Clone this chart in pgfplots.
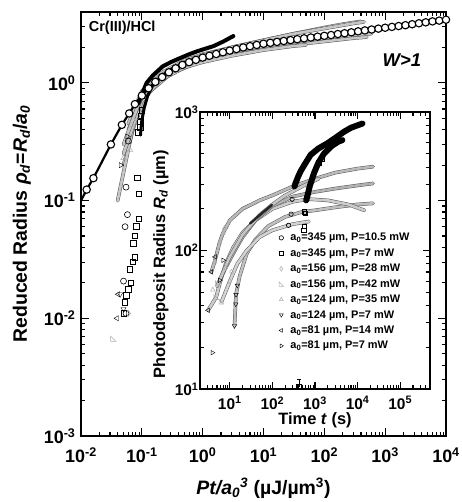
\documentclass[border=0pt]{standalone}
\usepackage{fontspec}
\setmainfont{Liberation Sans}
\usepackage{pgfplots}
\pgfplotsset{compat=1.18}
\pgfdeclareplotmark{rtri}{%
  \pgfpathmoveto{\pgfqpoint{-\pgfplotmarksize}{-\pgfplotmarksize}}%
  \pgfpathlineto{\pgfqpoint{\pgfplotmarksize}{-\pgfplotmarksize}}%
  \pgfpathlineto{\pgfqpoint{-\pgfplotmarksize}{\pgfplotmarksize}}%
  \pgfpathclose\pgfusepathqstroke}
\pgfplotsset{
  mytick/.style={tick align=inside, xtick pos=both, ytick pos=both,
    major tick length=8bp, minor tick length=4.5bp,
    every tick/.style={black, line width=1.1pt},
    axis line style={line width=1.6pt}},
  gband/.style={no marks, line join=round, line cap=round, double=#1, double distance=2.6bp, draw=gray!70!black, line width=0.5bp, forget plot},
  gband/.default={gray!45},
  gmk/.style={only marks, mark size=2.3bp, mark options={gray!65, line width=0.5bp, solid, fill=none}},
}
\begin{document}
\begin{tikzpicture}
\path[use as bounding box] (-81bp,-66bp) rectangle (381bp,436bp);
\begin{axis}[
  at={(0,0)}, anchor=south west,
  scale only axis, width=365bp, height=424bp,
  xmode=log, ymode=log,
  xmin=0.01, xmax=10000, ymin=0.001, ymax=4,
  mytick,
  xtick={0.01,0.1,1,10,100,1000,10000},
  xticklabels={10\textsuperscript{-2},10\textsuperscript{-1},10\textsuperscript{0},10\textsuperscript{1},10\textsuperscript{2},10\textsuperscript{3},10\textsuperscript{4}},
  ytick={0.001,0.01,0.1,1},
  yticklabels={10\textsuperscript{-3},10\textsuperscript{-2},10\textsuperscript{-1},10\textsuperscript{0}},
  minor xtick={0.02,0.03,0.04,0.05,0.06,0.07,0.08,0.09,0.2,0.3,0.4,0.5,0.6,0.7,0.8,0.9,2,3,4,5,6,7,8,9,20,30,40,50,60,70,80,90,200,300,400,500,600,700,800,900,2000,3000,4000,5000,6000,7000,8000,9000},
  minor ytick={0.002,0.003,0.004,0.005,0.006,0.007,0.008,0.009,0.02,0.03,0.04,0.05,0.06,0.07,0.08,0.09,0.2,0.3,0.4,0.5,0.6,0.7,0.8,0.9,2,3,4},
  tick label style={font=\fontsize{18}{18}\selectfont\bfseries},
  xticklabel style={yshift=-8bp},
  yticklabel style={xshift=-2bp},
  xlabel={\textit{Pt/a}\textsubscript{\textit{0}}\textsuperscript{\textit{3}} (µJ/µm\textsuperscript{3})},
  ylabel={Reduced Radius \textit{ρ}\textsubscript{\textit{d}}=\textit{R}\textsubscript{\textit{d}}/\textit{a}\textsubscript{\textit{0}}},
  label style={font=\fontsize{19.5}{20}\selectfont\bfseries},
  xlabel style={at={(axis description cs:0.5,-0.123)}, anchor=center},
  ylabel style={at={(axis description cs:-0.162,0.5)}, anchor=center},
  legend cell align=left,
  legend image post style={mark size=2.2bp},
  legend style={draw=none, fill=none, at={(axis description cs:0.534,0.488)}, anchor=north west,
    font=\fontsize{11}{12}\selectfont\bfseries, row sep=2.3bp,
    /tikz/every odd column/.append style={column sep=5bp}},
]
% gray experimental bands
\addplot[gband] coordinates {(0.06,0.45)(0.1,0.85)(0.2,1.2)(0.5,1.55)(1,1.75)(3,2.0)(10,2.3)(30,2.6)(100,2.95)(200,3.15)(400,3.33)};
\addplot[gband] coordinates {(0.05,0.2)(0.08,0.5)(0.15,0.95)(0.3,1.25)(1,1.55)(3,1.75)(10,1.95)(30,2.1)(100,2.25)(300,2.4)(500,2.45)};
\addplot[gband] coordinates {(0.04,0.1)(0.07,0.4)(0.12,0.8)(0.3,1.2)(1,1.55)(3,1.8)(10,2.0)(30,2.2)(100,2.4)(300,2.55)(600,2.62)};
\addplot[gband] coordinates {(0.05,0.25)(0.1,0.7)(0.2,1.05)(0.5,1.35)(1,1.5)(3,1.7)(10,1.9)(30,2.05)(50,2.1)};
\addplot[gband] coordinates {(0.06,0.4)(0.1,0.75)(0.2,1.1)(0.5,1.4)(1,1.6)(3,1.85)(10,2.05)(30,2.25)(80,2.4)};
\addplot[gband] coordinates {(0.05,0.3)(0.1,0.78)(0.2,1.15)(0.5,1.5)(1,1.7)(3,2.0)(10,2.3)(30,2.6)(100,2.9)(300,3.2)(450,3.3)};
% black experimental bands
\addplot[black, line width=3bp, line cap=round, forget plot] coordinates {(0.095,0.36)(0.1,0.48)(0.11,0.62)(0.125,0.78)(0.15,0.95)(0.2,1.12)(0.3,1.3)(0.5,1.48)(0.75,1.6)};
\addplot[black, line width=4bp, line cap=round, forget plot] coordinates {(0.088,0.67)(0.1,0.8)(0.12,1.0)(0.15,1.15)(0.22,1.38)(0.3,1.5)(0.42,1.62)(0.6,1.75)(0.8,1.85)(1.1,1.95)(1.5,2.05)(2.2,2.25)(3.2,2.5)};
% scattered early points (these series also carry the legend)
\addplot[only marks, mark=o, mark size=3bp, black, mark options={line width=0.6bp}] coordinates {(0.06,0.32)(0.055,0.13)(0.058,0.076)(0.053,0.06)(0.05,0.0207)(0.055,0.011)};
\addlegendentry{a\textsubscript{0}=345 µm, P=10.5 mW}
\addplot[only marks, mark=square, mark size=2.8bp, black, mark options={line width=0.9bp}] coordinates {(0.088,0.38)(0.084,0.156)(0.09,0.114)(0.09,0.07)(0.082,0.06)(0.077,0.05)(0.072,0.043)(0.077,0.033)(0.071,0.03)(0.064,0.026)(0.066,0.02)(0.06,0.0175)(0.056,0.0156)(0.053,0.0137)(0.051,0.011)(0.095,0.42)(0.095,0.47)(0.097,0.52)(0.1,0.58)};
\addlegendentry{a\textsubscript{0}=345 µm, P=7 mW}
\addplot[gmk, mark=diamond, mark size=3bp] coordinates {(0.06,0.011)(0.08,0.5)};
\addlegendentry{a\textsubscript{0}=156 µm, P=28 mW}
\addplot[gmk, mark=rtri, mark size=2.6bp] coordinates {(0.034,0.0067)(0.07,0.45)};
\addlegendentry{a\textsubscript{0}=156 µm, P=42 mW}
\addplot[gmk, mark=triangle, mark size=3bp] coordinates {(0.05,0.23)(0.064,0.27)};
\addlegendentry{a\textsubscript{0}=124 µm, P=35 mW}
\addplot[gmk, mark=triangle, mark size=3bp, mark options={rotate=180}] coordinates {(0.044,0.016)(0.05,0.012)};
\addlegendentry{a\textsubscript{0}=124 µm, P=7 mW}
\addplot[gmk, mark=triangle, mark size=3bp, mark options={rotate=90}] coordinates {(0.041,0.016)(0.039,0.01)};
\addlegendentry{a\textsubscript{0}=81 µm, P=14 mW}
\addplot[gmk, mark=triangle, mark size=3bp, mark options={rotate=-90}] coordinates {(0.045,0.2)(0.058,0.35)};
\addlegendentry{a\textsubscript{0}=81 µm, P=7 mW}
% model curve with circles
\addplot[black, line width=2.2bp, forget plot] coordinates {(0.01,0.1)(0.0124,0.124)(0.016,0.155)(0.031,0.30)(0.047,0.44)(0.062,0.55)(0.077,0.66)(0.1,0.78)(0.1292,0.90)(0.1668,1.02)(0.2154,1.12)(0.2783,1.23)(0.3594,1.33)(0.4642,1.42)(0.5995,1.50)(0.7743,1.57)(1,1.64)(1.292,1.70)(1.668,1.76)(2.154,1.82)(2.783,1.88)(3.594,1.94)(4.642,2.00)(5.995,2.05)(7.743,2.10)(10,2.15)(12.92,2.19)(16.68,2.23)(21.54,2.27)(27.83,2.31)(35.94,2.35)(46.42,2.39)(59.95,2.43)(77.43,2.47)(100,2.51)(129.2,2.55)(166.8,2.60)(215.4,2.64)(278.3,2.69)(359.4,2.74)(464.2,2.79)(599.5,2.84)(774.3,2.89)(1000,2.94)(1292,2.99)(1668,3.04)(2154,3.09)(2783,3.15)(3594,3.21)(4642,3.27)(5995,3.33)(7743,3.38)(10000,3.44)};
\addplot[only marks, mark=*, mark size=3.7bp, mark options={fill=white, draw=black, line width=1.1bp}, forget plot] coordinates {(0.0124,0.124)(0.016,0.155)(0.031,0.30)(0.047,0.44)(0.062,0.55)(0.077,0.66)(0.1,0.78)(0.1292,0.90)(0.1668,1.02)(0.2154,1.12)(0.2783,1.23)(0.3594,1.33)(0.4642,1.42)(0.5995,1.50)(0.7743,1.57)(1,1.64)(1.292,1.70)(1.668,1.76)(2.154,1.82)(2.783,1.88)(3.594,1.94)(4.642,2.00)(5.995,2.05)(7.743,2.10)(10,2.15)(12.92,2.19)(16.68,2.23)(21.54,2.27)(27.83,2.31)(35.94,2.35)(46.42,2.39)(59.95,2.43)(77.43,2.47)(100,2.51)(129.2,2.55)(166.8,2.60)(215.4,2.64)(278.3,2.69)(359.4,2.74)(464.2,2.79)(599.5,2.84)(774.3,2.89)(1000,2.94)(1292,2.99)(1668,3.04)(2154,3.09)(2783,3.15)(3594,3.21)(4642,3.27)(5995,3.33)(7743,3.38)(10000,3.44)};
\node[anchor=west, font=\fontsize{14.5}{15}\selectfont\bfseries] at (rel axis cs:0.012,0.962) {Cr(III)/HCl};
\node[anchor=center, font=\fontsize{18.5}{19}\selectfont\bfseries\itshape] at (rel axis cs:0.879,0.887) {W>1};
\end{axis}
\begin{axis}[
  at={(119bp,47bp)}, anchor=south west,
  scale only axis, width=230bp, height=277bp,
  xmode=log, ymode=log,
  xmin=2, xmax=500000, ymin=10, ymax=1000,
  mytick, major tick length=7bp, minor tick length=4bp,
  xtick={10,100,1000,10000,100000},
  xticklabels={10\textsuperscript{1},10\textsuperscript{2},10\textsuperscript{3},10\textsuperscript{4},10\textsuperscript{5}},
  ytick={10,100,1000},
  yticklabels={10\textsuperscript{1},10\textsuperscript{2},10\textsuperscript{3}},
  minor xtick={2,3,4,5,6,7,8,9,20,30,40,50,60,70,80,90,200,300,400,500,600,700,800,900,2000,3000,4000,5000,6000,7000,8000,9000,20000,30000,40000,50000,60000,70000,80000,90000,200000,300000,400000,500000},
  minor ytick={20,30,40,50,60,70,80,90,200,300,400,500,600,700,800,900},
  tick label style={font=\fontsize{15.5}{16}\selectfont\bfseries},
  xticklabel style={yshift=-4bp},
  yticklabel style={xshift=2bp},
  xlabel={Time \textit{t} (s)},
  ylabel={Photodeposit Radius \textit{R}\textsubscript{\textit{d}} (µm)},
  label style={font=\fontsize{16.5}{17}\selectfont\bfseries},
  xlabel style={at={(axis description cs:0.5,-0.112)}, anchor=center},
  ylabel style={at={(axis description cs:-0.17,0.45)}, anchor=center},
]
% gray bands
\addplot[gband=gray!55] coordinates {(3.7,70)(4.4,83)(5.8,115)(6.9,133)(10,165)(20,200)(50,230)(100,250)(300,290)(1000,330)(3000,365)(10000,390)(23000,403)};
\addplot[gband=gray!50] coordinates {(12.9,28.6)(14,48)(17,65)(25,95)(40,120)(80,150)(200,175)(500,190)(1000,195)(3000,205)(10000,215)(23000,219)};
\addplot[gband=gray!40] coordinates {(3.1,37)(4.8,46)(6,60)(8,80)(12,105)(20,135)(40,165)(100,200)(300,225)(700,235)(2000,230)(6000,215)(14500,195)};
\addplot[gband=gray!35] coordinates {(6.4,42.6)(10,60)(15,80)(25,100)(50,125)(100,140)(300,155)(716,162)};
\addplot[gband=gray!60] coordinates {(5.8,61)(8,75)(12,95)(20,125)(40,165)(100,210)(300,245)(1000,265)(3000,280)(10000,295)(23000,305)};
\addplot[gband=gray!45] coordinates {(5,55)(7,70)(10,90)(20,130)(50,180)(100,215)(200,250)(500,290)(1230,330)};
\addplot[black!85, line width=2.5bp, line cap=round, forget plot] coordinates {(30,157)(50,180)(97,213)};
% black bands
\addplot[black, line width=6bp, line cap=round, forget plot] coordinates {(330,290)(347,305)(400,340)(457,372)(550,410)(787,490)(1200,545)(1950,594)(3000,650)(4840,721)(7000,770)(12000,818)(13000,825)};
\addplot[black, line width=6bp, line cap=round, forget plot] coordinates {(620,230)(656,244)(750,290)(940,360)(1200,430)(1620,500)(2500,570)(3500,610)(4400,627)};
% early-time markers
\addplot[only marks, mark=o, mark size=2.2bp, black, mark options={line width=0.6bp}] coordinates {(240,152)(275,183)(290,234)};
\addplot[only marks, mark=square, mark size=2.2bp, black, mark options={line width=0.9bp}] coordinates {(565,149)(600,185)(565,190)(553,140)(1240,430)(1490,455)};
\addplot[gmk, mark=diamond, mark size=2.6bp] coordinates {(10,60)(8,75)(11,70)};
\addplot[gmk, mark=rtri] coordinates {(4.8,46)(6.4,42.6)(5.2,58)};
\addplot[gmk, mark=triangle, mark size=2.6bp] coordinates {(6.9,133)(5.8,115)(4.4,83)(4,52)(7.5,145)};
\addplot[gmk, mark=triangle, mark size=2.6bp, mark options={rotate=180}] coordinates {(14,48)(13.8,41)(12.9,28.6)(15,56)};
\addplot[gmk, mark=triangle, mark size=2.6bp, mark options={rotate=90}] coordinates {(3.7,70)(3.1,37)(4.5,90)};
\addplot[gmk, mark=triangle, mark size=2.6bp, mark options={rotate=-90}] coordinates {(5.8,61)(3.9,18.3)(7,85)};
\addplot[only marks, mark=square, mark size=2.4bp, black, mark options={line width=0.9bp}, error bars/.cd, y dir=plus, y explicit] coordinates {(420,10.3) +- (0,1.4)};
\end{axis}
\end{tikzpicture}
\end{document}
